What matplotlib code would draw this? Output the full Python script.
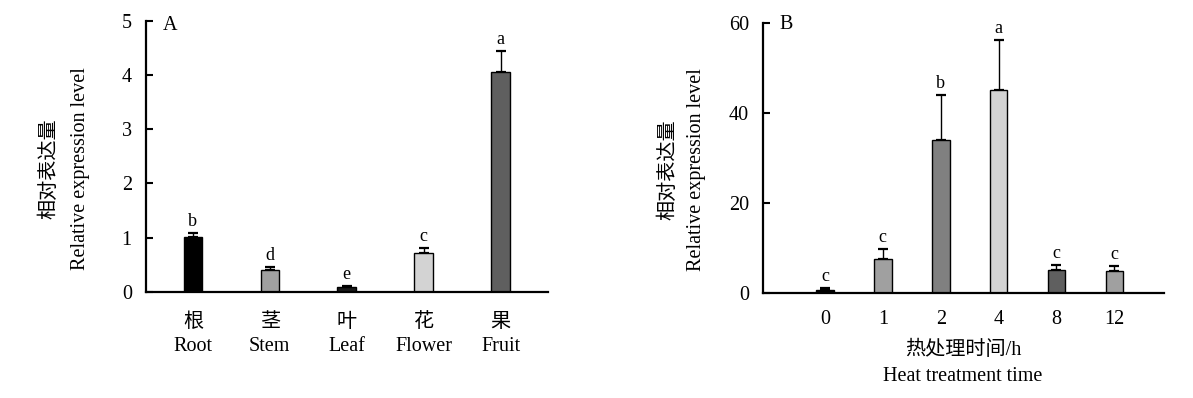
'''Relative expression: tissues (A) and heat treatment time course (B)'''
import matplotlib
matplotlib.use('Agg')
import matplotlib.pyplot as plt

plt.rcParams['font.family'] = ['Liberation Serif', 'Noto Sans CJK SC']
plt.rcParams['font.size'] = 14.5

# panel A: tissues
tissues = ['根\nRoot', '茎\nStem', '叶\nLeaf', '花\nFlower', '果\nFruit']
tissue_mean = [1.01, 0.40, 0.08, 0.71, 4.06]
tissue_err = [0.07, 0.05, 0.03, 0.10, 0.39]
tissue_sig = ['b', 'd', 'e', 'c', 'a']
tissue_colors = ['#000000', '#a0a0a0', '#1a1a1a', '#d3d3d3', '#5f5f5f']

# panel B: heat treatment time (h)
hours = ['0', '1', '2', '4', '8', '12']
heat_mean = [0.8, 7.6, 34.1, 45.1, 5.2, 4.9]
heat_err = [0.4, 2.3, 9.9, 11.3, 1.1, 1.1]
heat_sig = ['c', 'c', 'b', 'a', 'c', 'c']
heat_colors = ['#000000', '#a0a0a0', '#808080', '#d3d3d3', '#5f5f5f', '#a0a0a0']

YLABEL_CN = '相对表达量'
YLABEL_EN = 'Relative expression level'


def draw_panel(ax, labels, means, errs, sigs, colors, width, ymax, yticks,
               xlim, xpad):
    '''bars with one-sided error bars and significance letters'''
    pos = list(range(len(labels)))
    ax.bar(pos, means, width=width, color=colors, edgecolor='black',
           linewidth=1.0, zorder=2)
    ax.errorbar(pos, means, yerr=[[0] * len(errs), errs], fmt='none',
                ecolor='black', elinewidth=1.0, capsize=3.3, capthick=1.6,
                zorder=1)
    for x, m, e, s in zip(pos, means, errs, sigs):
        ax.annotate(s, (x, m + e), xytext=(0, 5), textcoords='offset points',
                    ha='center', va='baseline', fontsize=13)
    ax.set_xlim(*xlim)
    ax.set_ylim(0, ymax)
    ax.set_yticks(yticks)
    ax.set_xticks(pos)
    ax.set_xticklabels(labels, linespacing=1.4)
    ax.tick_params(axis='x', length=0, pad=xpad)
    ax.tick_params(axis='y', direction='in', length=5, width=1.5, pad=10)
    for side in ('top', 'right'):
        ax.spines[side].set_visible(False)
    for side in ('left', 'bottom'):
        ax.spines[side].set_linewidth(1.6)


fig = plt.figure(figsize=(11.93, 3.98), dpi=100)

ax_a = fig.add_axes([0.1221, 0.267, 0.3374, 0.681])
draw_panel(ax_a, tissues, tissue_mean, tissue_err, tissue_sig, tissue_colors,
           0.24, 5, [0, 1, 2, 3, 4, 5], (-0.614, 4.62), 15)
ax_a.text(0.043, 0.966, 'A', transform=ax_a.transAxes, ha='left',
          va='baseline')
ax_a.text(-0.238, 0.453, YLABEL_CN, transform=ax_a.transAxes, rotation=90,
          ha='center', va='center')
ax_a.text(-0.163, 0.453, YLABEL_EN, transform=ax_a.transAxes, rotation=90,
          ha='center', va='center')

ax_b = fig.add_axes([0.6393, 0.263, 0.336, 0.678])
draw_panel(ax_b, hours, heat_mean, heat_err, heat_sig, heat_colors,
           0.305, 60, [0, 20, 40, 60], (-1.076, 5.85), 12)
ax_b.text(0.043, 0.979, 'B', transform=ax_b.transAxes, ha='left',
          va='baseline')
ax_b.text(-0.2355, 0.46, YLABEL_CN, transform=ax_b.transAxes, rotation=90,
          ha='center', va='center')
ax_b.text(-0.1647, 0.46, YLABEL_EN, transform=ax_b.transAxes, rotation=90,
          ha='center', va='center')
ax_b.text(0.5, -0.21, '热处理时间/h', transform=ax_b.transAxes,
          ha='center', va='center')
ax_b.text(0.5, -0.31, 'Heat treatment time', transform=ax_b.transAxes,
          ha='center', va='center')

fig.savefig('out.png', dpi=100)
